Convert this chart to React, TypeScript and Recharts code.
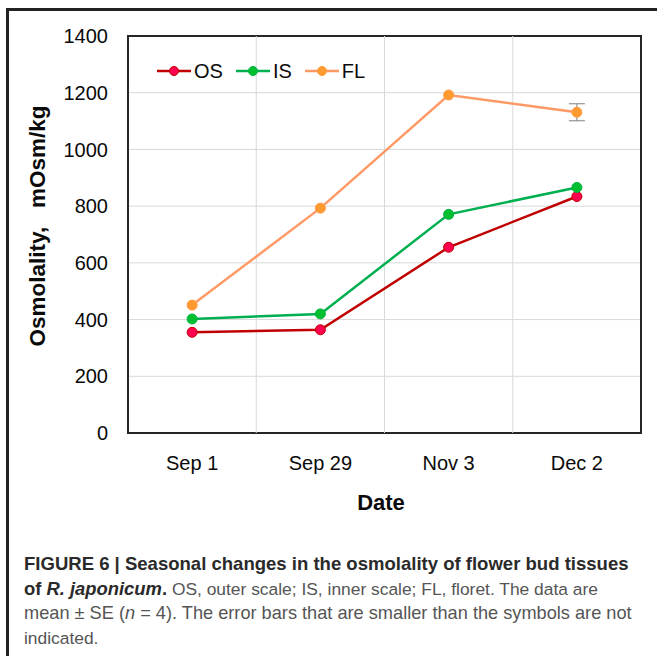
import React from 'react';
import {
  LineChart,
  Line,
  XAxis,
  YAxis,
  CartesianGrid,
  ReferenceLine,
  ReferenceArea,
  ErrorBar,
  Legend,
} from 'recharts';

const categories = ['Sep 1', 'Sep 29', 'Nov 3', 'Dec 2'];
const osValues = [355, 364, 655, 834];
const isValues = [402, 420, 771, 866];
const flValues = [451, 793, 1192, 1131];
const flErrors = [0, 0, 0, 30];
const yTicks = [0, 200, 400, 600, 800, 1000, 1200, 1400];
const categoryBoundaries = [1.5, 2.5, 3.5];

const data = categories.map((c, i) => ({
  idx: i + 1,
  name: c,
  OS: osValues[i],
  IS: isValues[i],
  FL: flValues[i],
  FLerr: flErrors[i],
}));

const FONT = '"Liberation Sans", Arial, Helvetica, sans-serif';

const seriesStyle: Record<string, { line: string; fill: string; stroke: string }> = {
  OS: { line: '#C00000', fill: '#FF0050', stroke: '#C00000' },
  IS: { line: '#00B050', fill: '#00C030', stroke: '#00B040' },
  FL: { line: '#FF9966', fill: '#FF9A30', stroke: '#FF9A40' },
};

const renderLegend = () => (
  <div style={{ display: 'flex', alignItems: 'center', fontFamily: FONT, fontSize: 20, color: '#0a0a0a' }}>
    {['OS', 'IS', 'FL'].map((k, i) => (
      <div key={k} style={{ display: 'flex', alignItems: 'center', marginLeft: i === 0 ? 0 : 13 }}>
        <svg width={34} height={14}>
          <line x1={0} y1={7} x2={34} y2={7} stroke={seriesStyle[k].line} strokeWidth={2.5} />
          <circle cx={17} cy={7} r={4.5} fill={seriesStyle[k].fill} stroke={seriesStyle[k].stroke} strokeWidth={1} />
        </svg>
        <span style={{ marginLeft: 3, lineHeight: '20px' }}>{k}</span>
      </div>
    ))}
  </div>
);

export default function App() {
  return (
    <div style={{ position: 'absolute', left: 0, top: 0, width: 657, height: 656, background: '#fff', overflow: 'hidden', fontFamily: FONT }}>
      <div
        style={{
          position: 'absolute',
          left: 6,
          top: 8,
          width: 720,
          height: 720,
          border: '3px solid #222',
          boxSizing: 'border-box',
        }}
      />
      <div style={{ position: 'absolute', left: 0, top: 0 }}>
        <LineChart width={657} height={530} data={data} margin={{ top: 36, right: 16, left: 0, bottom: 0 }}>
          <CartesianGrid vertical={false} stroke="#d9d9d9" strokeWidth={1} />
          {categoryBoundaries.map((b) => (
            <ReferenceLine key={b} x={b} stroke="#d9d9d9" strokeWidth={1} />
          ))}
          <XAxis
            dataKey="idx"
            type="number"
            domain={[0.5, 4.5]}
            ticks={[1, 2, 3, 4]}
            tickFormatter={(v: number) => categories[v - 1]}
            height={97}
            axisLine={false}
            tickLine={false}
            tickSize={0}
            tickMargin={23}
            tick={{ fill: '#0a0a0a', fontSize: 20, fontFamily: FONT }}
            interval={0}
          />
          <YAxis
            domain={[0, 1400]}
            ticks={yTicks}
            width={128}
            axisLine={false}
            tickLine={false}
            tickSize={0}
            tickMargin={20}
            tick={{ fill: '#0a0a0a', fontSize: 20, fontFamily: FONT }}
            interval={0}
          />
          <ReferenceArea x1={0.5} x2={4.5} y1={0} y2={1400} fill="none" fillOpacity={0} stroke="#262626" strokeWidth={2} />
          <Legend
            layout="horizontal"
            verticalAlign="middle"
            align="center"
            content={renderLegend}
            wrapperStyle={{ position: 'absolute', top: 61, left: 157, width: 'auto', height: 'auto' }}
          />
          <Line
            dataKey="OS"
            stroke={seriesStyle.OS.line}
            strokeWidth={2.5}
            dot={{ r: 5, fill: seriesStyle.OS.fill, stroke: seriesStyle.OS.stroke, strokeWidth: 1 }}
            isAnimationActive={false}
          />
          <Line
            dataKey="IS"
            stroke={seriesStyle.IS.line}
            strokeWidth={2.5}
            dot={{ r: 5, fill: seriesStyle.IS.fill, stroke: seriesStyle.IS.stroke, strokeWidth: 1 }}
            isAnimationActive={false}
          />
          <Line
            dataKey="FL"
            stroke={seriesStyle.FL.line}
            strokeWidth={2.5}
            dot={{ r: 5, fill: seriesStyle.FL.fill, stroke: seriesStyle.FL.stroke, strokeWidth: 1 }}
            isAnimationActive={false}
          >
            <ErrorBar dataKey="FLerr" width={8} stroke="#808080" strokeWidth={1} direction="y" />
          </Line>
        </LineChart>
      </div>
      <div
        style={{
          position: 'absolute',
          left: 38 - 160,
          top: 226 - 14,
          width: 320,
          height: 28,
          lineHeight: '28px',
          textAlign: 'center',
          transform: 'rotate(-90deg)',
          fontSize: 22.5,
          fontWeight: 'bold',
          color: '#0a0a0a',
          whiteSpace: 'pre',
        }}
      >
        {'Osmolality,   mOsm/kg'}
      </div>
      <div
        style={{
          position: 'absolute',
          left: 281,
          top: 490,
          width: 200,
          lineHeight: '26px',
          textAlign: 'center',
          fontSize: 22,
          fontWeight: 'bold',
          color: '#0a0a0a',
        }}
      >
        Date
      </div>
      <div
        style={{
          position: 'absolute',
          left: 24,
          top: 552,
          width: 640,
          fontSize: 17.4,
          lineHeight: '24.5px',
          color: '#555',
          whiteSpace: 'nowrap',
        }}
      >
        <span style={{ fontWeight: 'bold', color: '#2a2a2a', fontSize: 18.55 }}>
          FIGURE 6 | Seasonal changes in the osmolality of flower bud tissues
        </span>
        <br />
        <span style={{ fontWeight: 'bold', color: '#2a2a2a', fontSize: 18.4 }}>
          of <i>R. japonicum</i>.
        </span>{' '}
        OS, outer scale; IS, inner scale; FL, floret. The data are
        <br />
        <span style={{ fontSize: 18.2 }}>
          mean ± SE (<i>n</i> = 4). The error bars that are smaller than the symbols are not
        </span>
        <br />
        indicated.
      </div>
    </div>
  );
}
